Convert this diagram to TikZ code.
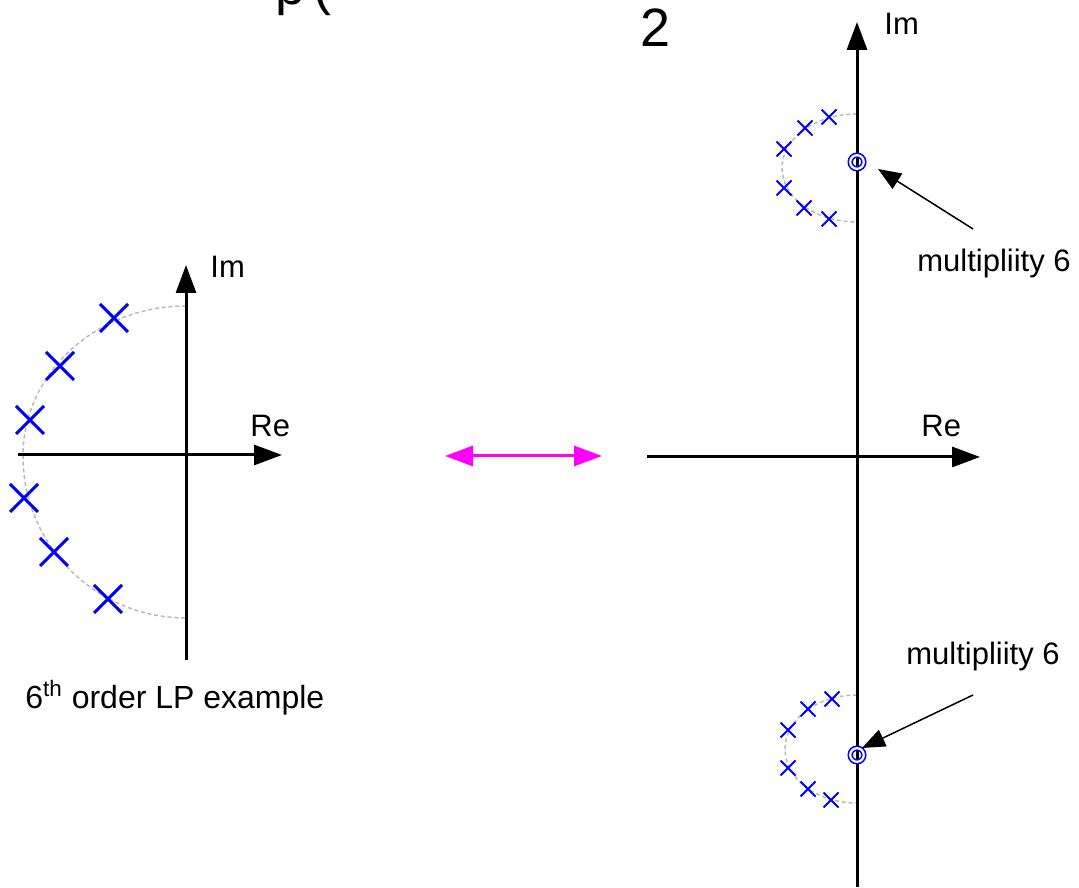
\documentclass[tikz,border=0pt]{standalone}
\usepackage{fontspec}
\setmainfont{Liberation Sans}
\usetikzlibrary{arrows.meta,positioning,shapes.misc}
\definecolor{mapmag}{RGB}{255,0,255}
\tikzset{
  >=Triangle,
  axis/.style={line width=1.5pt, -{Triangle[length=14pt,width=10pt]}},
  circ/.style={draw=black!27, line width=0.75pt, dash pattern=on 2pt off 1.4pt},
  lbl/.style={font=\fontsize{15.5}{18}\selectfont, inner sep=0pt, anchor=base west}
}

\begin{document}
\begin{tikzpicture}[x=0.5pt, y=0.5pt,
    % pole markers and arrows for this figure
    pole/.style={cross out, draw=blue, line width=1.5pt, minimum size=12.5pt, inner sep=0pt},
    small pole/.style={cross out, draw=blue, line width=1pt, minimum size=6.5pt, inner sep=0pt},
    mult/.style={circle, draw=blue, line width=0.8pt, double=white, double distance=1.1pt, minimum size=6.8pt, inner sep=0pt},
    callout/.style={line width=0.75pt, -{Triangle[length=11.5pt,width=9pt]}},
    map/.style={mapmag, line width=1.5pt, {Triangle[length=14pt,width=10pt]}-{Triangle[length=14pt,width=10pt]}}
]
\useasboundingbox (0,0) rectangle (1079,887);

% --- Title remnants (cut off at the top) ---
\node[inner sep=0pt, anchor=base west, font=\fontsize{27}{32}\selectfont] (ttlP) at (275,882) {p\hspace{4pt}(};
\node[inner sep=0pt, anchor=base west, font=\fontsize{27}{32}\selectfont] (ttlTwo) at (640,840) {2};

% --- Low-pass prototype (left) ---
\draw[circ] (186,581) arc[start angle=90, end angle=180, x radius=163, y radius=150]
                      arc[start angle=180, end angle=270, x radius=163, y radius=162];
\coordinate (reL0) at (18,432);
\coordinate (reL1) at (282,432);
\coordinate (imL0) at (186,227);
\coordinate (imL1) at (186,622);
\draw[axis] (reL0) -- (reL1);
\draw[axis] (imL0) -- (imL1);
\node[lbl] (imL) at (210,609) {Im};
\node[lbl] (reL) at (250,450) {Re};

\foreach \px/\py [count=\k] in {114/569, 60/521, 30/467, 24/389, 54/335, 108/288} {
    \node[pole] (pL\k) at (\px,\py) {};
}
\node[lbl, font=\fontsize{16}{19}\selectfont] (capL) at (25,178) {6\textsuperscript{th} order LP example};

% --- Mapping arrow ---
\coordinate (mapL) at (445,431);
\coordinate (mapR) at (602,431);
\draw[map] (mapL) -- (mapR);

% --- Band-pass result (right) ---
\draw[circ] (857,773) arc[start angle=90, end angle=270, x radius=75, y radius=54];
\draw[circ] (857,192) arc[start angle=90, end angle=270, x radius=72, y radius=54];
\coordinate (reR0) at (647,430);
\coordinate (reR1) at (980,430);
\coordinate (imR0) at (857,0);
\coordinate (imR1) at (857,865);
\draw[axis] (reR0) -- (reR1);
\draw[axis] (imR0) -- (imR1);
\node[lbl] (imR) at (884,852) {Im};
\node[lbl] (reR) at (921,450) {Re};

\foreach \px/\py [count=\k] in {829/770, 805/759, 784/738, 784/699, 804/679, 829/668} {
    \node[small pole] (pU\k) at (\px,\py) {};
}
\foreach \px/\py [count=\k] in {832/188, 808/178, 788/157, 788/119, 808/98, 831/87} {
    \node[small pole] (pD\k) at (\px,\py) {};
}
\node[mult] (zU) at (857,725) {};
\node[mult] (zD) at (857,132) {};

% multiplicity callouts
\node[lbl] (multU) at (917,615) {multipliity 6};
\node[lbl] (multD) at (906,222) {multipliity 6};
\coordinate (tailU) at (973,658);
\coordinate (tipU) at (878,718);
\coordinate (tailD) at (973,192);
\coordinate (tipD) at (862,139);
\draw[callout] (tailU) -- (tipU);
\draw[callout] (tailD) -- (tipD);

\end{tikzpicture}
\end{document}
